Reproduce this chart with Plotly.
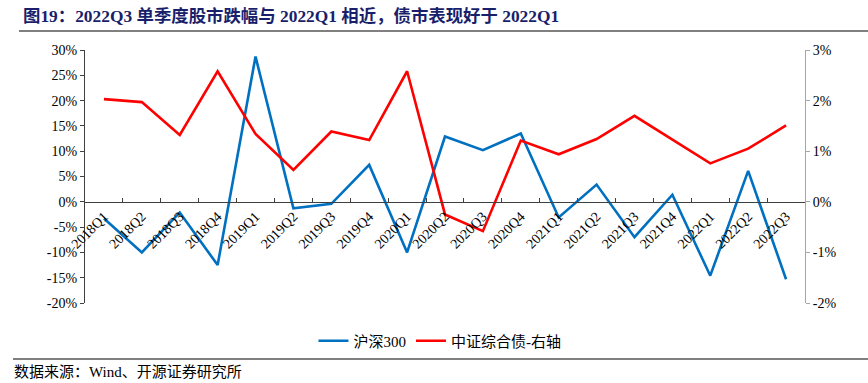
import plotly.graph_objects as go

categories = ["2018Q1", "2018Q2", "2018Q3", "2018Q4", "2019Q1", "2019Q2", "2019Q3", "2019Q4",
              "2020Q1", "2020Q2", "2020Q3", "2020Q4", "2021Q1", "2021Q2", "2021Q3", "2021Q4",
              "2022Q1", "2022Q2", "2022Q3"]
hs300 = [-3.3, -10.0, -2.1, -12.5, 28.7, -1.3, -0.4, 7.3, -10.0, 12.9, 10.2, 13.5,
         -3.1, 3.4, -7.0, 1.4, -14.6, 6.1, -15.3]
bond = [2.03, 1.97, 1.32, 2.58, 1.34, 0.63, 1.39, 1.22, 2.58, -0.25, -0.58, 1.21,
        0.94, 1.24, 1.70, 1.23, 0.76, 1.05, 1.51]
left_ticks = [-20, -15, -10, -5, 0, 5, 10, 15, 20, 25, 30]
right_ticks = [-2, -1, 0, 1, 2, 3]
series_names = ["沪深300", "中证综合债-右轴"]
title_text = "图19：2022Q3 单季度股市跌幅与 2022Q1 相近，债市表现好于 2022Q1"
source_text = "数据来源：Wind、开源证券研究所"

SERIF = "Liberation Serif, Times New Roman, Noto Sans CJK SC, serif"

fig = go.Figure()
fig.add_trace(go.Scatter(x=categories, y=hs300, name=series_names[0], mode="lines",
                         line=dict(color="#0070C0", width=2.6), yaxis="y"))
fig.add_trace(go.Scatter(x=categories, y=bond, name=series_names[1], mode="lines",
                         line=dict(color="#FF0000", width=2.6), yaxis="y2"))

fig.update_layout(
    width=868, height=383,
    margin=dict(l=85, r=63, t=50, b=80, autoexpand=False),
    paper_bgcolor="white", plot_bgcolor="white",
    font=dict(family=SERIF, size=13, color="#000000"),
    showlegend=True,
    legend=dict(orientation="h", x=0.493, xanchor="center", y=-0.085, yanchor="top",
                font=dict(family=SERIF, size=15), itemwidth=30, bgcolor="rgba(0,0,0,0)",
                tracegroupgap=0),
    xaxis=dict(
        type="category", anchor="free", position=0.4,
        showline=True, linecolor="#404040", linewidth=1.2,
        ticks="inside", ticklen=4, tickcolor="#404040", tickson="boundaries",
        tickangle=-45, tickfont=dict(family=SERIF, size=14, color="#000000"),
        showgrid=False, zeroline=False, range=[-0.5, 18.5],
    ),
    yaxis=dict(
        range=[-20, 30], tickvals=left_ticks, ticktext=[f"{v}%" for v in left_ticks],
        showline=True, linecolor="#404040", linewidth=1.2,
        ticks="outside", ticklen=4, tickcolor="#404040",
        showgrid=False, zeroline=False, tickfont=dict(family=SERIF, size=14),
    ),
    yaxis2=dict(
        range=[-2, 3], tickvals=right_ticks, ticktext=[f"{v}%" for v in right_ticks],
        overlaying="y", side="right", anchor="x",
        showline=True, linecolor="#A6A6A6", linewidth=1,
        ticks="outside", ticklen=4, tickcolor="#A6A6A6",
        showgrid=False, zeroline=False, tickfont=dict(family=SERIF, size=14),
    ),
)

fig.add_annotation(text="<b>" + title_text + "</b>", xref="paper", yref="paper",
                   x=-64 / 720, xanchor="left", y=1 + 34 / 253, yanchor="middle",
                   showarrow=False, font=dict(family=SERIF, size=17.4, color="#1A1F6B"))
fig.add_annotation(text=source_text, xref="paper", yref="paper",
                   x=-73 / 720, xanchor="left", y=-(372 - 303) / 253, yanchor="middle",
                   showarrow=False, font=dict(family=SERIF, size=15, color="#000000"))

fig.add_shape(type="line", xref="paper", yref="paper",
              x0=-66 / 720, x1=783 / 720, y0=1 + 19 / 253, y1=1 + 19 / 253,
              line=dict(color="#808080", width=2))
fig.add_shape(type="line", xref="paper", yref="paper",
              x0=-72 / 720, x1=783 / 720, y0=-(359 - 303) / 253, y1=-(359 - 303) / 253,
              line=dict(color="#808080", width=2))

fig.write_html("out.html", config={"displayModeBar": False},
               post_script="document.body.style.margin='0';document.body.style.overflow='hidden';")
